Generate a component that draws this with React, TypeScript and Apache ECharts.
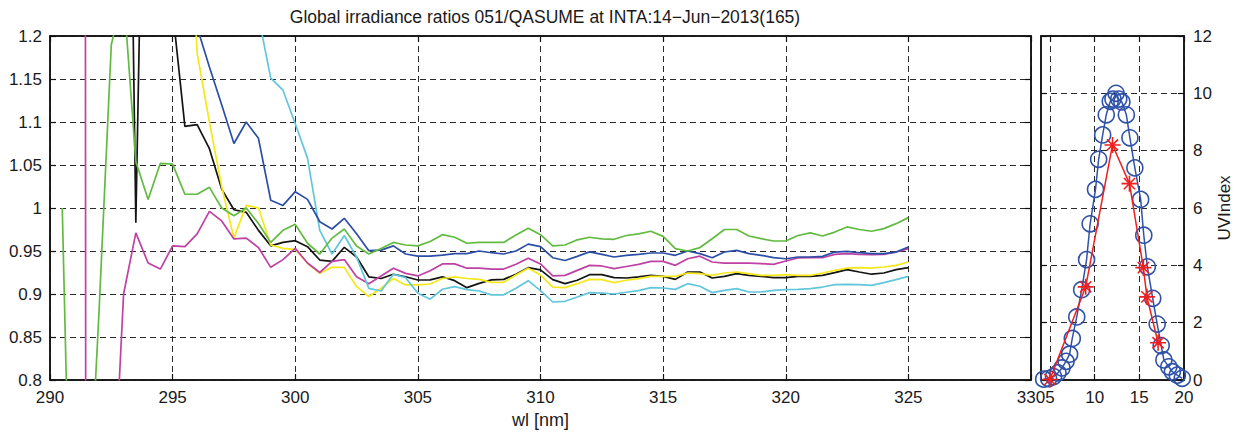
import React, { useEffect, useRef } from 'react';
import * as echarts from 'echarts';

const FONT = 'Liberation Sans, Arial, sans-serif';

const wavelengths = [
  290, 290.5, 291, 291.5, 292, 292.5, 293, 293.5, 294, 294.5, 295, 295.5, 296, 296.5, 297, 297.5, 298, 298.5, 299, 299.5, 300,
  300.5, 301, 301.5, 302, 302.5, 303, 303.5, 304, 304.5, 305, 305.5, 306, 306.5, 307, 307.5, 308, 308.5, 309, 309.5, 310,
  310.5, 311, 311.5, 312, 312.5, 313, 313.5, 314, 314.5, 315, 315.5, 316, 316.5, 317, 317.5, 318, 318.5, 319, 319.5, 320,
  320.5, 321, 321.5, 322, 322.5, 323, 323.5, 324, 324.5, 325,
];

const ratioBlack = [
  null, null, null, null, null, null, 2.0, 0.983, 1.75, 1.5, 1.23, 1.095, 1.097, 1.069, 1.022, 0.998, 0.995, 0.974, 0.956, 0.96, 0.962,
  0.955, 0.9395, 0.938, 0.9543, 0.943, 0.92, 0.918, 0.923, 0.92, 0.9163, 0.9165, 0.92, 0.9155, 0.9074, 0.9124, 0.9165, 0.917, 0.923, 0.9306, 0.928,
  0.9167, 0.912, 0.916, 0.9225, 0.9225, 0.919, 0.9186, 0.92, 0.9217, 0.9205, 0.917, 0.9256, 0.9256, 0.9186, 0.9205, 0.9236, 0.9217, 0.9205, 0.919, 0.919,
  0.9205, 0.9205, 0.9217, 0.9248, 0.9283, 0.9256, 0.923, 0.9244, 0.9283, 0.9306,
];

const ratioYellow = [
  null, null, null, null, null, null, null, null, null, null, null, 1.47, 1.18, 1.1, 1.025, 0.965, 1.003, 1.0, 0.957, 0.953, 0.952,
  0.9357, 0.924, 0.931, 0.931, 0.9085, 0.897, 0.9066, 0.918, 0.9105, 0.9105, 0.9116, 0.918, 0.92, 0.918, 0.917, 0.9136, 0.9136, 0.922, 0.93, 0.922,
  0.908, 0.9074, 0.912, 0.917, 0.9167, 0.9132, 0.916, 0.9178, 0.9205, 0.9205, 0.9205, 0.9244, 0.9236, 0.9217, 0.9244, 0.9256, 0.9236, 0.9217, 0.9217, 0.9225,
  0.9217, 0.9217, 0.9244, 0.9275, 0.93, 0.9306, 0.93, 0.9314, 0.9333, 0.9372,
];

const ratioMagenta = [
  null, null, 19, -1, 0.3, 0.61, 0.9, 0.971, 0.936, 0.929, 0.956, 0.955, 0.97, 0.996, 0.985, 0.964, 0.965, 0.954, 0.931, 0.94, 0.953,
  0.936, 0.925, 0.938, 0.94, 0.92, 0.912, 0.921, 0.93, 0.924, 0.921, 0.927, 0.935, 0.935, 0.93, 0.93, 0.929, 0.929, 0.9345, 0.9415, 0.935,
  0.921, 0.9217, 0.9275, 0.9333, 0.9326, 0.9295, 0.932, 0.9345, 0.938, 0.938, 0.9333, 0.941, 0.944, 0.9372, 0.936, 0.936, 0.936, 0.9353, 0.9345, 0.9384,
  0.9419, 0.9422, 0.9422, 0.946, 0.947, 0.946, 0.9457, 0.946, 0.9488, 0.9527,
];

const ratioCyan = [
  null, null, null, null, null, null, null, null, null, null, null, null, null, null, null, null, 1.35, 1.223, 1.151, 1.137, 1.098,
  1.058, 0.974, 0.9465, 0.968, 0.943, 0.9066, 0.9035, 0.923, 0.919, 0.901, 0.894, 0.9055, 0.9085, 0.905, 0.9035, 0.899, 0.899, 0.9066, 0.9155, 0.904,
  0.8907, 0.8915, 0.8965, 0.9016, 0.901, 0.9, 0.902, 0.904, 0.9074, 0.907, 0.9054, 0.912, 0.909, 0.9016, 0.9043, 0.9062, 0.9023, 0.9023, 0.9043, 0.905,
  0.9054, 0.9062, 0.9081, 0.9109, 0.9112, 0.9109, 0.91, 0.9132, 0.9167, 0.9205,
];

const ratioBlue = [
  null, null, null, null, null, null, null, null, null, null, null, 1.3, 1.21, 1.164, 1.12, 1.075, 1.1, 1.081, 1.009, 1.003, 1.019,
  1.01, 0.984, 0.9756, 0.988, 0.97, 0.9504, 0.951, 0.956, 0.9465, 0.944, 0.944, 0.9453, 0.947, 0.947, 0.95, 0.948, 0.9465, 0.95, 0.958, 0.955,
  0.9422, 0.939, 0.9438, 0.949, 0.946, 0.943, 0.945, 0.946, 0.9477, 0.9477, 0.945, 0.95, 0.947, 0.9422, 0.9488, 0.9508, 0.947, 0.945, 0.9422, 0.941,
  0.943, 0.943, 0.9438, 0.9488, 0.9496, 0.948, 0.947, 0.947, 0.9488, 0.9547,
];

const ratioGreen = [
  null, 1.0, 0.39, 0.6, 0.88, 1.19, 1.25, 1.054, 1.01, 1.052, 1.051, 1.016, 1.016, 1.024, 1.0, 0.991, 1.0, 0.982, 0.96, 0.974, 0.981,
  0.959, 0.9465, 0.965, 0.9756, 0.9558, 0.9465, 0.953, 0.96, 0.957, 0.956, 0.961, 0.969, 0.966, 0.959, 0.96, 0.96, 0.96, 0.9686, 0.9764, 0.969,
  0.956, 0.957, 0.963, 0.966, 0.964, 0.9636, 0.968, 0.97, 0.973, 0.967, 0.9527, 0.95, 0.954, 0.9643, 0.975, 0.975, 0.9674, 0.9643, 0.9616, 0.9616,
  0.968, 0.971, 0.9674, 0.972, 0.978, 0.975, 0.973, 0.976, 0.9818, 0.9888,
];

// UV index (right panel): time of day [h] and UV index
const uvTimeBlue = [
  4.3, 4.85, 5.4, 5.9, 6.35, 6.8, 7.2, 7.5, 8.0, 8.55, 9.1, 9.5, 10.1, 10.45, 10.9, 11.3, 11.75, 12.05, 12.4, 12.7,
  13.05, 13.55, 13.95, 14.5, 15.15, 15.5, 15.9, 16.5, 17.0, 17.45, 17.75, 18.3, 18.7, 19.25, 19.8,
];
const uvIndexBlue = [
  0.03, 0.05, 0.12, 0.25, 0.42, 0.65, 0.9, 1.45, 2.2, 3.15, 4.2, 5.45, 6.65, 7.7, 8.55, 9.25, 9.72, 9.8, 10.0, 9.8,
  9.7, 9.25, 8.45, 7.4, 6.3, 5.05, 3.95, 2.85, 1.95, 1.2, 0.7, 0.46, 0.29, 0.17, 0.06,
];
const uvTimeRed = [5.0, 9.0, 12.0, 13.9, 15.45, 15.85, 17.1];
const uvIndexRed = [0.02, 3.25, 8.2, 6.85, 3.92, 2.9, 1.3];

const leftXTicks = { min: 290, max: 330, interval: 5 };
const leftYTicks = { min: 0.8, max: 1.2, interval: 0.05 };
const rightXTickValues = [5, 10, 15, 20];
const rightYTicks = { min: 0, max: 12, interval: 2 };

const TITLE = 'Global irradiance ratios 051/QASUME at INTA:14\u2212Jun\u22122013(165)';

const gridLine = { show: true, lineStyle: { type: [6, 4], color: '#2a2a2a', width: 1 } };
const axisLine = { show: true, onZero: false, lineStyle: { color: '#111', width: 1.5 } };
const tick = { show: true, inside: true, length: 6, lineStyle: { color: '#111', width: 1.2 } };
const labelStyle = { fontFamily: FONT, fontSize: 17, color: '#1a1a1a' };

function ratioSeries(name: string, values: (number | null)[], color: string) {
  return {
    name,
    type: 'line',
    xAxisIndex: 0,
    yAxisIndex: 0,
    showSymbol: false,
    symbol: 'none',
    clip: true,
    data: wavelengths.map((w, i) => [w, values[i]]),
    lineStyle: { color, width: 1.7 },
    itemStyle: { color },
    connectNulls: false,
  };
}

export default function App() {
  const ref = useRef<HTMLDivElement>(null);
  useEffect(() => {
    if (!ref.current) return;
    const chart = echarts.init(ref.current, undefined, { renderer: 'svg' });
    const option: any = {
      animation: false,
      backgroundColor: '#ffffff',
      title: {
        text: TITLE,
        left: 540,
        top: 3,
        textAlign: 'center',
        textStyle: { fontFamily: FONT, fontSize: 17.5, fontWeight: 'normal', color: '#1a1a1a' },
      },
      grid: [
        { left: 50, top: 36, width: 981, height: 344, show: true, borderColor: '#111', borderWidth: 1.5, backgroundColor: 'transparent' },
        { left: 1041, top: 36, width: 143, height: 344, show: true, borderColor: '#111', borderWidth: 1.5, backgroundColor: 'transparent' },
      ],
      xAxis: [
        {
          gridIndex: 0, type: 'value', position: 'bottom', ...leftXTicks,
          axisLine, axisTick: tick, splitLine: gridLine,
          axisLabel: { ...labelStyle, margin: 9 },
          name: 'wl [nm]', nameLocation: 'middle', nameGap: 24,
          nameTextStyle: { ...labelStyle, fontSize: 18 },
        },
        {
          gridIndex: 0, type: 'value', position: 'top', ...leftXTicks,
          axisLine, axisTick: tick, splitLine: { show: false }, axisLabel: { show: false },
        },
        {
          gridIndex: 1, type: 'value', position: 'bottom', min: 4, max: 20,
          axisLine, axisTick: { ...tick, customValues: rightXTickValues },
          splitLine: gridLine,
          axisLabel: { ...labelStyle, margin: 9, customValues: rightXTickValues },
        },
        {
          gridIndex: 1, type: 'value', position: 'top', min: 4, max: 20,
          axisLine, axisTick: { ...tick, customValues: rightXTickValues },
          splitLine: { show: false }, axisLabel: { show: false, customValues: rightXTickValues },
        },
      ],
      yAxis: [
        {
          gridIndex: 0, type: 'value', position: 'left', ...leftYTicks,
          axisLine, axisTick: tick, splitLine: gridLine,
          axisLabel: { ...labelStyle, margin: 8 },
        },
        {
          gridIndex: 0, type: 'value', position: 'right', ...leftYTicks,
          axisLine, axisTick: tick, splitLine: { show: false }, axisLabel: { show: false },
        },
        {
          gridIndex: 1, type: 'value', position: 'right', ...rightYTicks,
          axisLine, axisTick: tick, splitLine: gridLine,
          axisLabel: { ...labelStyle, margin: 9 },
          name: 'UVIndex', nameLocation: 'middle', nameGap: 30,
          nameTextStyle: { ...labelStyle },
        },
        {
          gridIndex: 1, type: 'value', position: 'left', ...rightYTicks,
          axisLine, axisTick: tick, splitLine: { show: false }, axisLabel: { show: false },
        },
      ],
      series: [
        ratioSeries('black', ratioBlack, '#141414'),
        ratioSeries('yellow', ratioYellow, '#f4e81a'),
        ratioSeries('magenta', ratioMagenta, '#bf41a3'),
        ratioSeries('cyan', ratioCyan, '#62c6dc'),
        ratioSeries('blue', ratioBlue, '#2c4ea6'),
        ratioSeries('green', ratioGreen, '#62bb40'),
        {
          name: 'UV blue', type: 'line', xAxisIndex: 2, yAxisIndex: 2,
          data: uvTimeBlue.map((t, i) => [t, uvIndexBlue[i]]),
          symbol: 'circle', symbolSize: 16, showSymbol: true, clip: false,
          lineStyle: { color: '#2f52a8', width: 1.5 },
          itemStyle: { color: 'transparent', borderColor: '#2f52a8', borderWidth: 1.6 },
          z: 3,
        },
        {
          name: 'UV red', type: 'line', xAxisIndex: 2, yAxisIndex: 2,
          data: uvTimeRed.map((t, i) => [t, uvIndexRed[i]]),
          symbol: 'path://M0,-10L0,10M-10,0L10,0M-7,-7L7,7M-7,7L7,-7', symbolSize: 16, showSymbol: true, clip: false,
          lineStyle: { color: '#f01e1e', width: 1.5 },
          itemStyle: { color: 'none', borderColor: '#f01e1e', borderWidth: 1.6 },
          z: 4,
        },
      ],
    };
    chart.setOption(option);
    return () => chart.dispose();
  }, []);
  return <div ref={ref} style={{ width: 1248, height: 434, position: 'absolute', left: 0, top: 0 }} />;
}
